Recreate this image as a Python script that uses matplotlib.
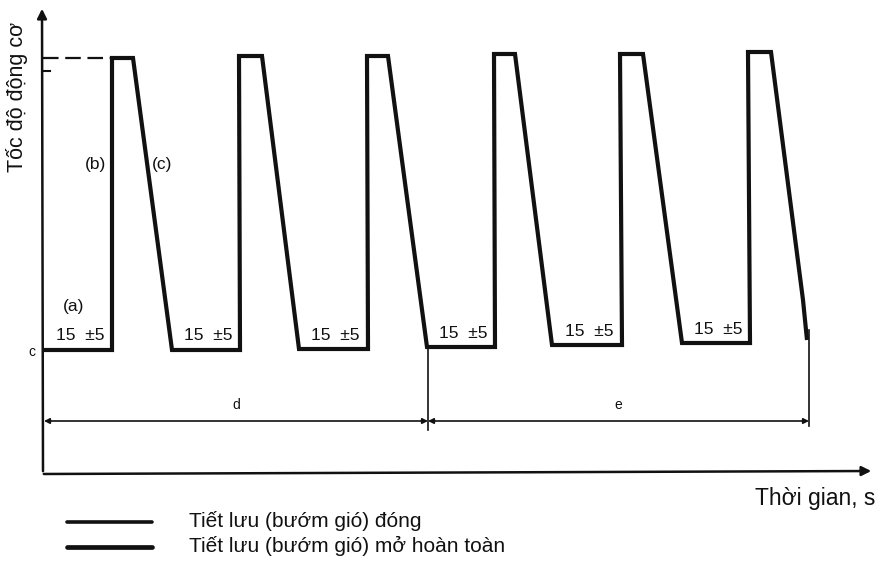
import matplotlib
matplotlib.use("Agg")
import matplotlib.pyplot as plt
from matplotlib import font_manager as fm

# ---- data (diagram units: x = time axis position, y = engine speed position, y grows downward) ----
trace_t = [44, 112, 112, 133, 172, 240, 239, 262, 299, 368, 367, 388, 427,
           495, 494, 515, 552, 622, 620, 643, 682, 750, 748, 771, 803, 807]
trace_v = [350, 350, 58, 58, 350, 350, 56, 56, 349, 349, 56, 56, 347,
           347, 54, 54, 345, 345, 54, 54, 343, 343, 52, 52, 300, 340]
idle_start = [44, 172, 299, 427, 552, 682]
idle_end = [112, 240, 368, 495, 622, 750]
idle_level = [350, 350, 349, 347, 345, 343]
idle_label = "15  ±5"
dim_bounds = [44, 428, 809]
dim_labels = ["d", "e"]
legend_labels = ["Tiết lưu (bướm gió) đóng", "Tiết lưu (bướm gió) mở hoàn toàn"]
y_label = "Tốc độ động cơ"
x_label = "Thời gian, s"
phase_labels = ["(a)", "(b)", "(c)"]
low_label = "c"

names = {f.name for f in fm.fontManager.ttflist}
sans = "Liberation Sans" if "Liberation Sans" in names else "DejaVu Sans"
narrow = sans

fig = plt.figure(figsize=(8.82, 5.62), dpi=100)
ax = fig.add_axes([0, 0, 1, 1])
ax.set_xlim(0, 882)
ax.set_ylim(562, 0)
ax.axis("off")

K = "#111111"
# axes arrows
ax.annotate("", xy=(42, 6), xytext=(43, 474),
            arrowprops=dict(arrowstyle="-|>", color=K, lw=1.8, mutation_scale=14))
ax.annotate("", xy=(874, 471), xytext=(41, 474),
            arrowprops=dict(arrowstyle="-|>", color=K, lw=1.8, mutation_scale=14))

# dashed reference line and tick at top speed
ax.plot([43, 110], [58, 58], color=K, lw=1.6, dashes=(7, 3))
ax.plot([43, 50], [71, 71], color=K, lw=1.5)

# main trace
ax.plot(trace_t, trace_v, color=K, lw=3.0, solid_joinstyle="miter", solid_capstyle="butt")

# idle labels
for s, e, lv in zip(idle_start, idle_end, idle_level):
    ax.text((s + e) / 2 + 2, lv - 14, idle_label, fontsize=12.5, family=narrow,
            ha="center", va="center", color=K)

# phase labels
ax.text(74, 306, phase_labels[0], fontsize=12.5, family=narrow, ha="center", va="center", color=K)
ax.text(95, 165, phase_labels[1], fontsize=12.5, family=narrow, ha="center", va="center", color=K)
ax.text(162, 165, phase_labels[2], fontsize=12.5, family=narrow, ha="center", va="center", color=K)
ax.text(32, 352, low_label, fontsize=10, family=narrow, ha="center", va="center", color=K)

# dimension lines
ax.plot([428, 428], [347, 430], color=K, lw=1.2)
ax.plot([809, 809], [330, 426], color=K, lw=1.2)
for i in range(2):
    ax.annotate("", xy=(dim_bounds[i], 421), xytext=(dim_bounds[i + 1], 421),
                arrowprops=dict(arrowstyle="<|-|>", color=K, lw=1.2, mutation_scale=8,
                                shrinkA=0, shrinkB=0))
    ax.text((dim_bounds[i] + dim_bounds[i + 1]) / 2, 405, dim_labels[i],
            fontsize=10, family=narrow, ha="center", va="center", color=K)

# axis labels
ax.text(17, 97, y_label, rotation=90, fontsize=15.5, family=sans, ha="center", va="center", color=K)
ax.text(875, 498, x_label, fontsize=16.5, family=sans, ha="right", va="center", color=K)

# legend
ax.plot([67, 152], [522, 522], color=K, lw=2.6, solid_capstyle="round")
ax.plot([67, 152], [547, 547], color=K, lw=3.4, solid_capstyle="round")
ax.text(189, 521, legend_labels[0], fontsize=15, family=sans, ha="left", va="center", color=K)
ax.text(189, 546, legend_labels[1], fontsize=15, family=sans, ha="left", va="center", color=K)

fig.savefig("out.png", dpi=100, facecolor="white")
